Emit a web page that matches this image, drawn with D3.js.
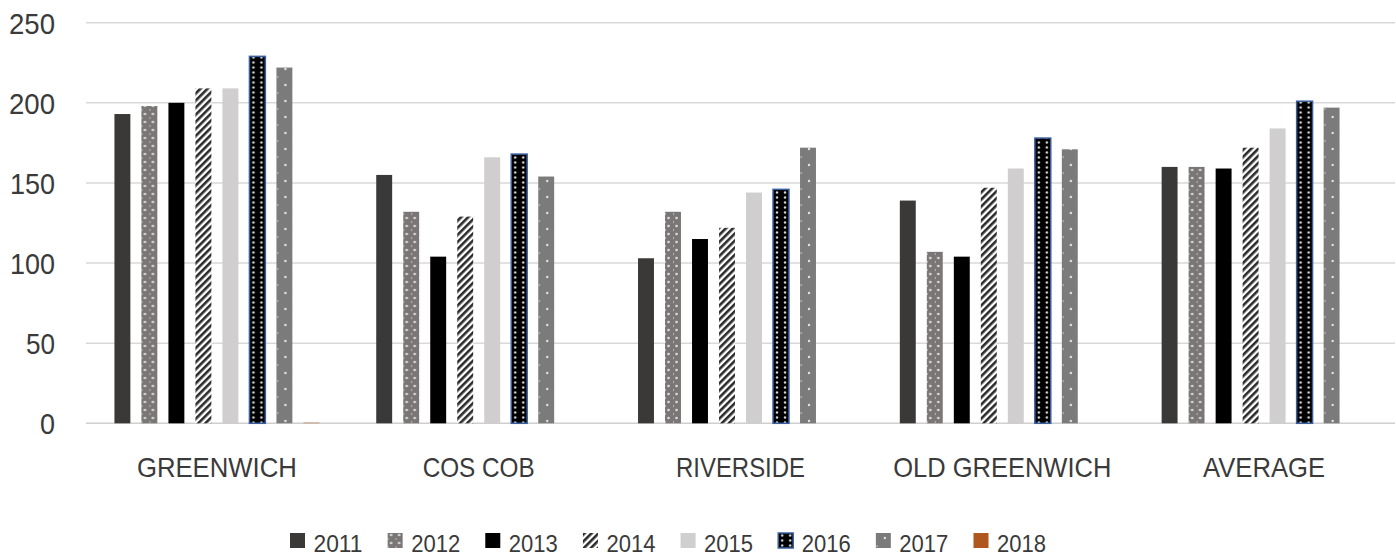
<!DOCTYPE html>
<html>
<head>
<meta charset="utf-8">
<script src="https://cdn.jsdelivr.net/npm/d3@7"></script>
<style>
  html, body { margin: 0; padding: 0; background: #ffffff; }
  svg { display: block; }
  text { font-family: "Liberation Sans", Arial, sans-serif; fill: #3a3a3a; }
</style>
</head>
<body>
<svg id="chart" width="1396" height="555"></svg>
<script>
// ---- data ----
const categories = ["GREENWICH", "COS COB", "RIVERSIDE", "OLD GREENWICH", "AVERAGE"];
const years = ["2011", "2012", "2013", "2014", "2015", "2016", "2017", "2018"];
const v2011 = [193, 155, 103, 139, 160];
const v2012 = [198, 132, 132, 107, 160];
const v2013 = [200, 104, 115, 104, 159];
const v2014 = [209, 129, 122, 147, 172];
const v2015 = [209, 166, 144, 159, 184];
const v2016 = [229, 168, 146, 178, 201];
const v2017 = [222, 154, 172, 171, 197];
const v2018 = [0.6, null, null, null, null];
const yTicks = [0, 50, 100, 150, 200, 250];

const seriesValues = [v2011, v2012, v2013, v2014, v2015, v2016, v2017, v2018];

// ---- layout ----
const svg = d3.select("#chart");
const plotLeft = 86, plotRight = 1395, plotTop = 22.7, plotBottom = 423.3;

const x0 = d3.scaleBand().domain(categories).range([plotLeft, plotRight]).padding(0);
const x1 = d3.scaleBand().domain(years).range([0, x0.bandwidth()])
  .paddingInner(0.41).paddingOuter(1.053);
const y = d3.scaleLinear().domain([0, 250]).range([plotBottom, plotTop]);

// ---- patterns ----
const defs = svg.append("defs");
// 2012: gray with light dots (staggered)
const p12 = defs.append("pattern").attr("id", "p2012").attr("patternUnits", "userSpaceOnUse")
  .attr("width", 8).attr("height", 8);
p12.append("rect").attr("width", 8).attr("height", 8).attr("fill", "#7a7675");
p12.append("circle").attr("cx", 3.5).attr("cy", 2).attr("r", 1.3).attr("fill", "#dcdcdc");
p12.append("circle").attr("cx", 11.5).attr("cy", 2).attr("r", 1.3).attr("fill", "#dcdcdc");
p12.append("circle").attr("cx", 12.5).attr("cy", 6).attr("r", 1.3).attr("fill", "#dcdcdc");
p12.append("circle").attr("cx", -0.5).attr("cy", 6).attr("r", 1.3).attr("fill", "#dcdcdc");
// 2014: diagonal stripes
const p14 = defs.append("pattern").attr("id", "p2014").attr("patternUnits", "userSpaceOnUse")
  .attr("width", 5).attr("height", 5).attr("patternTransform", "rotate(45)");
p14.append("rect").attr("width", 5).attr("height", 5).attr("fill", "#ffffff");
p14.append("rect").attr("width", 2.6).attr("height", 5).attr("fill", "#2a2a2a");
// 2016: black with white dots
const p16 = defs.append("pattern").attr("id", "p2016").attr("patternUnits", "userSpaceOnUse")
  .attr("width", 8).attr("height", 5);
p16.append("rect").attr("width", 8).attr("height", 5).attr("fill", "#000000");
p16.append("circle").attr("cx", 4).attr("cy", 2.5).attr("r", 1.2).attr("fill", "#d8d8d8");
p16.append("circle").attr("cx", 12).attr("cy", 2.5).attr("r", 1.2).attr("fill", "#d8d8d8");
// 2017: gray with sparse dots
const p17 = defs.append("pattern").attr("id", "p2017").attr("patternUnits", "userSpaceOnUse")
  .attr("width", 16).attr("height", 16);
p17.append("rect").attr("width", 16).attr("height", 16).attr("fill", "#7b7b7b");
p17.append("circle").attr("cx", 9).attr("cy", 5).attr("r", 1.2).attr("fill", "#e6e6e6");
p17.append("rect").attr("x", 0.5).attr("y", 12.5).attr("width", 1.5).attr("height", 1.2).attr("fill", "#cfcfcf");

const fills = ["#3b3937", "url(#p2012)", "#000000", "url(#p2014)", "#d0cecf", "url(#p2016)", "url(#p2017)", "#b0561f"];
const strokes = [null, null, null, null, null, "#3a5fa0", null, null];

// ---- gridlines ----
svg.append("g").selectAll("line").data(yTicks).join("line")
  .attr("x1", plotLeft).attr("x2", plotRight)
  .attr("y1", d => y(d)).attr("y2", d => y(d))
  .attr("stroke", d => d === 0 ? "#cfcfcf" : "#d9d9d9")
  .attr("stroke-width", 1.5);

// ---- y tick labels ----
const tickW = { "0": 15, "50": 29, "100": 45, "150": 45, "200": 46, "250": 46 };
svg.append("g").selectAll("text").data(yTicks).join("text")
  .attr("x", 55).attr("y", d => y(d)).attr("dy", "0.36em")
  .attr("text-anchor", "end").attr("font-size", 30)
  .attr("textLength", d => tickW[d]).attr("lengthAdjust", "spacingAndGlyphs")
  .text(d => d);

// ---- bars ----
const groups = svg.append("g").selectAll("g").data(categories).join("g")
  .attr("transform", d => `translate(${x0(d)},0)`);

groups.each(function (cat, ci) {
  const g = d3.select(this);
  const rows = years.map((yr, si) => ({ yr, si, v: seriesValues[si][ci] }))
    .filter(r => r.v !== null && r.v !== undefined);
  g.selectAll("rect").data(rows).join("rect")
    .attr("transform", r => `translate(${x1(r.yr)},0)`)
    .attr("x", 0)
    .attr("y", r => y(r.v))
    .attr("width", x1.bandwidth())
    .attr("height", r => Math.max(1, y(0) - y(r.v)))
    .attr("fill", r => fills[r.si])
    .attr("fill-opacity", r => r.si === 7 ? 0.45 : 1)
    .attr("stroke", r => strokes[r.si])
    .attr("stroke-width", r => strokes[r.si] ? 1.5 : 0);
});

// ---- category labels ----
const catW = { "GREENWICH": 160, "COS COB": 112, "RIVERSIDE": 129, "OLD GREENWICH": 218, "AVERAGE": 122 };
svg.append("g").selectAll("text").data(categories).join("text")
  .attr("x", d => x0(d) + x0.bandwidth() / 2).attr("y", 477)
  .attr("text-anchor", "middle").attr("font-size", 28)
  .attr("textLength", d => catW[d]).attr("lengthAdjust", "spacingAndGlyphs")
  .text(d => d);

// ---- legend ----
const lx = d3.scaleLinear().domain([0, years.length - 1]).range([290, 973.5]);
const legend = svg.append("g").selectAll("g").data(years).join("g")
  .attr("transform", (d, i) => `translate(${lx(i)},533)`);
legend.append("rect")
  .attr("transform", "translate(0,0)")
  .attr("width", 15).attr("height", 15)
  .attr("fill", (d, i) => fills[i])
  .attr("stroke", (d, i) => strokes[i])
  .attr("stroke-width", (d, i) => strokes[i] ? 1.5 : 0);
legend.append("text")
  .attr("x", 23.5).attr("y", 18.5).attr("font-size", 24)
  .attr("textLength", 49).attr("lengthAdjust", "spacingAndGlyphs")
  .text(d => d);
</script>
</body>
</html>
